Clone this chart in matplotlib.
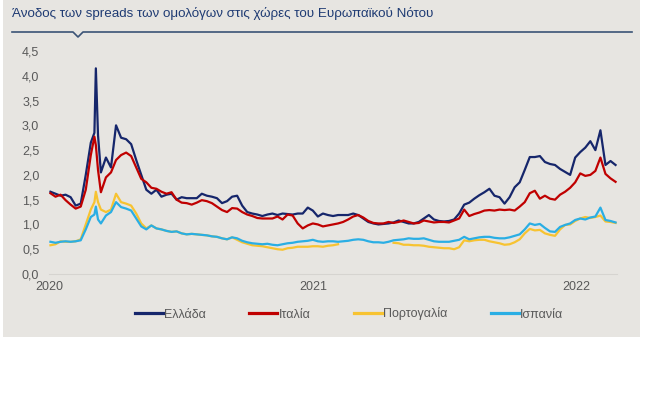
import matplotlib
matplotlib.use("Agg")
import matplotlib.pyplot as plt
from matplotlib.patches import Rectangle
from matplotlib.lines import Line2D
from matplotlib.ticker import FuncFormatter
import pandas as pd

plt.rcParams['font.family'] = ['Liberation Sans', 'DejaVu Sans']

# ---------------- data ----------------
title = "Άνοδος των spreads των ομολόγων στις χώρες του Ευρωπαϊκού Νότου"
series_names = ["Ελλάδα", "Ιταλία", "Πορτογαλία", "Ισπανία"]
year_labels = ["2020", "2021", "2022"]
year_ticks = ["2020-01-01", "2021-01-01", "2022-01-01"]
y_ticks = [0.0, 0.5, 1.0, 1.5, 2.0, 2.5, 3.0, 3.5, 4.0, 4.5]

first_week = "2020-01-03"   # weekly (Friday) observations

greece = [1.66, 1.62, 1.58, 1.60, 1.55, 1.38, 1.42, 2.00, 2.65, 4.15,
          2.05, 2.35, 2.15, 3.00, 2.75, 2.72, 2.62, 2.30, 2.00, 1.70,
          1.62, 1.70, 1.56, 1.60, 1.62, 1.50, 1.55, 1.53, 1.53, 1.53,
          1.62, 1.58, 1.56, 1.53, 1.43, 1.47, 1.56, 1.58, 1.38, 1.25,
          1.22, 1.20, 1.17, 1.20, 1.22, 1.19, 1.22, 1.21, 1.20, 1.22,
          1.22, 1.34, 1.28, 1.16, 1.22, 1.19, 1.17, 1.19, 1.19, 1.19,
          1.22, 1.19, 1.12, 1.05, 1.02, 1.00, 1.01, 1.02, 1.04, 1.08,
          1.05, 1.02, 1.02, 1.05, 1.12, 1.19, 1.10, 1.07, 1.06, 1.07,
          1.10, 1.22, 1.40, 1.44, 1.52, 1.59, 1.65, 1.72, 1.58, 1.55,
          1.42, 1.55, 1.75, 1.85, 2.10, 2.36, 2.36, 2.38, 2.26, 2.22,
          2.20, 2.12, 2.06, 2.00, 2.35, 2.46, 2.55, 2.68, 2.50, 2.90,
          2.20, 2.28, 2.20]

italy = [1.63, 1.56, 1.60, 1.49, 1.40, 1.32, 1.36, 1.70, 2.40, 2.60,
         1.65, 1.95, 2.05, 2.30, 2.40, 2.45, 2.38, 2.15, 1.92, 1.85,
         1.74, 1.72, 1.66, 1.62, 1.65, 1.50, 1.44, 1.43, 1.40, 1.44,
         1.49, 1.47, 1.43, 1.36, 1.29, 1.25, 1.33, 1.32, 1.25, 1.20,
         1.17, 1.13, 1.12, 1.12, 1.12, 1.16, 1.10, 1.20, 1.18, 1.02,
         0.92, 0.98, 1.02, 1.00, 0.96, 0.98, 1.00, 1.02, 1.05, 1.10,
         1.16, 1.19, 1.14, 1.07, 1.03, 1.02, 1.02, 1.05, 1.03, 1.05,
         1.08, 1.05, 1.02, 1.03, 1.08, 1.06, 1.04, 1.05, 1.05, 1.04,
         1.08, 1.12, 1.30, 1.17, 1.21, 1.24, 1.28, 1.29, 1.28, 1.30,
         1.29, 1.30, 1.28, 1.36, 1.45, 1.63, 1.68, 1.52, 1.58, 1.52,
         1.50, 1.60, 1.66, 1.74, 1.85, 2.03, 1.98, 2.00, 2.08, 2.35,
         2.02, 1.93, 1.86]

nan = float("nan")
portugal = [0.58, 0.60, 0.66, 0.65, 0.65, 0.66, 0.70, 1.00, 1.30, 1.66,
            1.30, 1.25, 1.30, 1.62, 1.45, 1.42, 1.38, 1.22, 1.02, 0.92,
            0.98, 0.92, 0.90, 0.87, 0.85, 0.86, 0.82, 0.80, 0.81, 0.80,
            0.79, 0.78, 0.76, 0.75, 0.72, 0.70, 0.74, 0.69, 0.64, 0.61,
            0.58, 0.57, 0.56, 0.54, 0.52, 0.50, 0.49, 0.52, 0.53, 0.55,
            0.55, 0.55, 0.56, 0.56, 0.55, 0.57, 0.58, 0.60, nan, nan,
            nan, nan, nan, nan, nan, nan, nan, nan, 0.63, 0.62,
            0.59, 0.59, 0.58, 0.58, 0.57, 0.55, 0.54, 0.53, 0.52, 0.52,
            0.50, 0.54, 0.68, 0.66, 0.68, 0.69, 0.69, 0.66, 0.64, 0.62,
            0.59, 0.60, 0.64, 0.70, 0.82, 0.91, 0.88, 0.89, 0.82, 0.79,
            0.77, 0.90, 0.99, 1.00, 1.07, 1.12, 1.15, 1.13, 1.15, 1.18,
            1.06, 1.05, 1.03]

spain = [0.65, 0.63, 0.65, 0.66, 0.65, 0.66, 0.68, 0.90, 1.15, 1.36,
         1.02, 1.18, 1.25, 1.45, 1.35, 1.32, 1.28, 1.12, 0.96, 0.90,
         0.98, 0.92, 0.90, 0.87, 0.85, 0.86, 0.82, 0.80, 0.81, 0.80,
         0.79, 0.78, 0.76, 0.75, 0.72, 0.70, 0.74, 0.72, 0.67, 0.64,
         0.62, 0.61, 0.60, 0.61, 0.59, 0.58, 0.60, 0.62, 0.63, 0.65,
         0.66, 0.67, 0.69, 0.66, 0.65, 0.66, 0.66, 0.65, 0.66, 0.67,
         0.69, 0.70, 0.69, 0.66, 0.64, 0.64, 0.63, 0.65, 0.68, 0.69,
         0.70, 0.72, 0.71, 0.71, 0.72, 0.69, 0.66, 0.65, 0.65, 0.65,
         0.67, 0.69, 0.75, 0.70, 0.72, 0.74, 0.75, 0.75, 0.73, 0.72,
         0.72, 0.74, 0.77, 0.80, 0.90, 1.02, 0.99, 1.01, 0.93, 0.86,
         0.85, 0.95, 0.99, 1.02, 1.09, 1.12, 1.10, 1.14, 1.16, 1.34,
         1.09, 1.07, 1.04]

# extra daily observations around the March 2020 spike
spike_dates = ["2020-03-04", "2020-03-09"]
greece_spike = [2.85, 2.80]
italy_spike = [2.77, 2.10]
portugal_spike = [1.45, 1.45]
spain_spike = [1.20, 1.10]

colors = ["#16266b", "#c00000", "#f7c331", "#2aaee4"]

# ---------------- build table ----------------
weekly_idx = pd.date_range(first_week, periods=len(greece), freq="W-FRI")
weekly = pd.DataFrame({"Ελλάδα": greece, "Ιταλία": italy,
                       "Πορτογαλία": portugal, "Ισπανία": spain}, index=weekly_idx)
extra = pd.DataFrame({"Ελλάδα": greece_spike, "Ιταλία": italy_spike,
                      "Πορτογαλία": portugal_spike, "Ισπανία": spain_spike},
                     index=pd.to_datetime(spike_dates))
df = pd.concat([weekly, extra]).sort_index()

# ---------------- figure ----------------
W, H = 670, 395
fig = plt.figure(figsize=(W / 100, H / 100), dpi=100)
fig.patch.set_facecolor("white")

def fx(px):
    return px / W

def fy(py):
    return 1 - py / H

panel_color = "#e7e5e1"
fig.patches.append(Rectangle((fx(3), fy(337)), fx(640) - fx(3), fy(0) - fy(337),
                             transform=fig.transFigure, facecolor=panel_color,
                             edgecolor="none", zorder=-5))

fig.text(fx(12), fy(14), title, color="#1f3b73", fontsize=9.6,
         ha="left", va="center")

line_px = [(12, 32), (73, 32), (78, 37), (83, 32), (632, 32)]
fig.lines.append(Line2D([fx(p[0]) for p in line_px], [fy(p[1]) for p in line_px],
                        transform=fig.transFigure, color="#3b5376", lw=1.2))

ax = fig.add_axes([fx(49), fy(274), fx(617) - fx(49), fy(51) - fy(274)])
ax.set_zorder(2)
ax.patch.set_visible(False)

for name, c in zip(series_names, colors):
    ax.plot(df.index, df[name], color=c, lw=1.6, label=name, solid_joinstyle="round")

ax.set_ylim(0, 4.5)
ax.set_xlim(pd.Timestamp("2020-01-01"), pd.Timestamp("2022-02-27"))
ax.set_yticks(y_ticks)
ax.yaxis.set_major_formatter(FuncFormatter(lambda v, p: f"{v:.1f}".replace(".", ",")))
ax.set_xticks(pd.to_datetime(year_ticks))
ax.set_xticklabels(year_labels)

for s in ["top", "right", "left"]:
    ax.spines[s].set_visible(False)
ax.spines["bottom"].set_color("#d6d4d0")
ax.spines["bottom"].set_linewidth(0.8)
ax.tick_params(axis="both", length=0, labelsize=9, colors="#595959")
ax.tick_params(axis="y", pad=7)
ax.tick_params(axis="x", pad=5)

handles = [Line2D([], [], color=c, lw=2.3) for c in colors]
leg = fig.legend(handles, series_names, loc="center", ncol=4,
                 bbox_to_anchor=(fx(349), fy(314)), frameon=False,
                 fontsize=9, handlelength=2.25, handletextpad=0.1,
                 columnspacing=3.45, labelcolor="#595959")

fig.savefig("out.png", dpi=100, facecolor=fig.get_facecolor())
